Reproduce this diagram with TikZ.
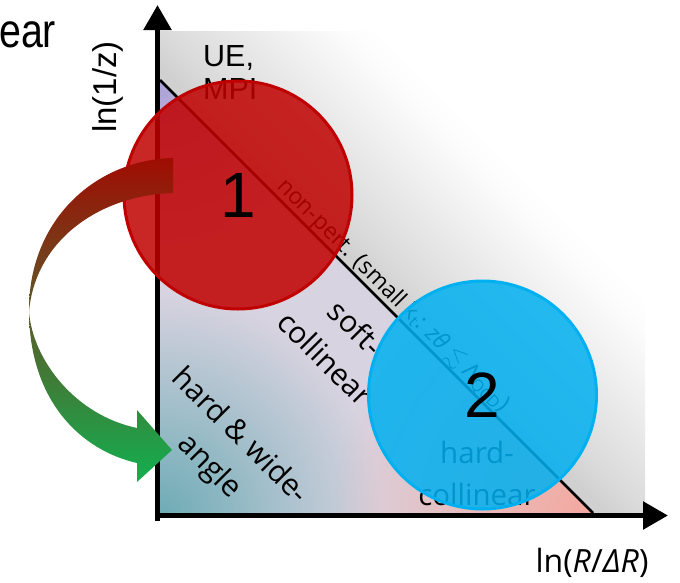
\documentclass[tikz,border=0pt]{standalone}
\usepackage{fontspec}
\usepackage{amssymb}
\usepackage{graphicx}
\setmainfont{Liberation Sans}
\newfontfamily\osans{Open Sans}
\usetikzlibrary{arrows.meta,fadings}
\definecolor{ppred}{RGB}{192,0,0}
\definecolor{ppblue}{RGB}{0,176,240}
\definecolor{ugA}{RGB}{208,208,208}
\definecolor{ugB}{RGB}{218,218,218}
\definecolor{ugC}{RGB}{240,240,240}
\definecolor{ugD}{RGB}{251,251,251}
\definecolor{lowbase}{RGB}{216,211,224}
\definecolor{lowteal}{RGB}{110,172,182}
\definecolor{lowlav}{RGB}{172,162,215}
\definecolor{lowpink}{RGB}{245,168,158}
\definecolor{arrtop}{RGB}{160,12,2}
\definecolor{arrmid}{RGB}{140,150,65}
\definecolor{arrbot}{RGB}{18,176,80}
\pgfdeclarehorizontalshading{upshade}{100bp}{color(0bp)=(ugA); color(47.4bp)=(ugA); color(50bp)=(ugB); color(58.5bp)=(ugC); color(63bp)=(ugD); color(66bp)=(white); color(100bp)=(white)}
\tikzfading[name=blobfade, inner color=transparent!0, outer color=transparent!100]
\tikzset{
  axisline/.style={line width=5.5pt, -{Triangle[length=25pt,width=27pt]}},
  bigcirc/.style={circle, minimum size=228pt, inner sep=0pt, line width=3pt, fill opacity=0.85, text opacity=1},
  numlbl/.style={inner sep=0pt, font=\fontsize{64}{64}\selectfont},
  regionlbl/.style={font=\osans\fontsize{30}{43}\selectfont, align=center, inner sep=0pt},
  pertlbl/.style={font=\osans\fontsize{23}{23}\selectfont, inner sep=0pt, anchor=base west, rotate=-45},
}
\begin{document}
\begin{tikzpicture}[x=1pt,y=-1pt]
\useasboundingbox (0,0) rectangle (680,582);
% upper background
\shade[shading=upshade, shading angle=45] (160,31) rectangle (645,515);
% lower triangle
\coordinate (dA) at (160,80);
\coordinate (dB) at (593,513);
\coordinate (dC) at (160,515);
\begin{scope}
  \clip (dA) -- (dC) -- (595,515) -- (dB) -- cycle;
  \fill[lowbase] (dA) -- (dC) -- (595,515) -- (dB) -- cycle;
  \fill[lowteal, path fading=blobfade] (160,515) circle[radius=220pt];
  \fill[lowlav, path fading=blobfade] (160,80) circle[radius=170pt];
  \fill[lowpink, path fading=blobfade] (593,515) circle[radius=260pt];
\end{scope}
\draw[line width=2.5pt] (dA) -- (dB);
% region texts
\node[anchor=west, align=left, inner sep=0pt, font=\fontsize{30.5}{33}\selectfont] (ue) at (203,72.5) {UE,\\MPI};
\node[pertlbl] (np) at (276,187) {non-pert. (small k\textsubscript{t}: \textit{zθ} $\lesssim$ Λ\textsubscript{QCD})};
\node[regionlbl, rotate=-45] (sc) at (341,343) {soft-\\collinear};
\node[regionlbl, rotate=-45] (hw) at (224,452) {hard \& wide-\\angle};
\node[regionlbl, font=\osans\fontsize{29.5}{42}\selectfont] (hc) at (477,473) {hard-\\collinear};
% axes
\coordinate (ybot) at (157.5,521);
\coordinate (ytip) at (157.5,5);
\coordinate (xleft) at (155,515.5);
\coordinate (xtip) at (668,515.5);
\draw[axisline] (ybot) -- (ytip);
\draw[axisline] (xleft) -- (xtip);
% circles
\node[bigcirc, fill=ppred, draw=ppred] (one) at (238,195) {};
\node[bigcirc, fill=ppblue, draw=ppblue] (two) at (482.5,395) {};
% curved arrow (on top of circle 1)
\shade[top color=arrtop, middle color=arrmid, bottom color=arrbot]
  (173,158) .. controls (95,160) and (29,220) .. (29,310)
  .. controls (29,400) and (80,450) .. (137,463)
  -- (137,482) -- (172,450) -- (137,410) -- (137,428)
  .. controls (75,415) and (33,360) .. (29,312)
  .. controls (35,240) and (100,195) .. (173,193) -- cycle;
% circle numbers
\node[numlbl] (onelbl) at (one.center) {1};
\node[numlbl] (twolbl) at (two.center) {2};
% axis labels
\node[rotate=90, inner sep=0pt, font=\fontsize{33}{33}\selectfont] (ylab) at (108,87) {ln(1/z)};
\node[inner sep=0pt, font=\osans\fontsize{32}{32}\selectfont] (xlab) at (592,563) {ln(\textit{R}/\textit{ΔR})};
\node[anchor=base west, inner sep=0pt, font=\fontsize{48}{48}\selectfont] (ear) at (-1,47) {\scalebox{0.82}[1]{ear}};
\end{tikzpicture}
\end{document}
